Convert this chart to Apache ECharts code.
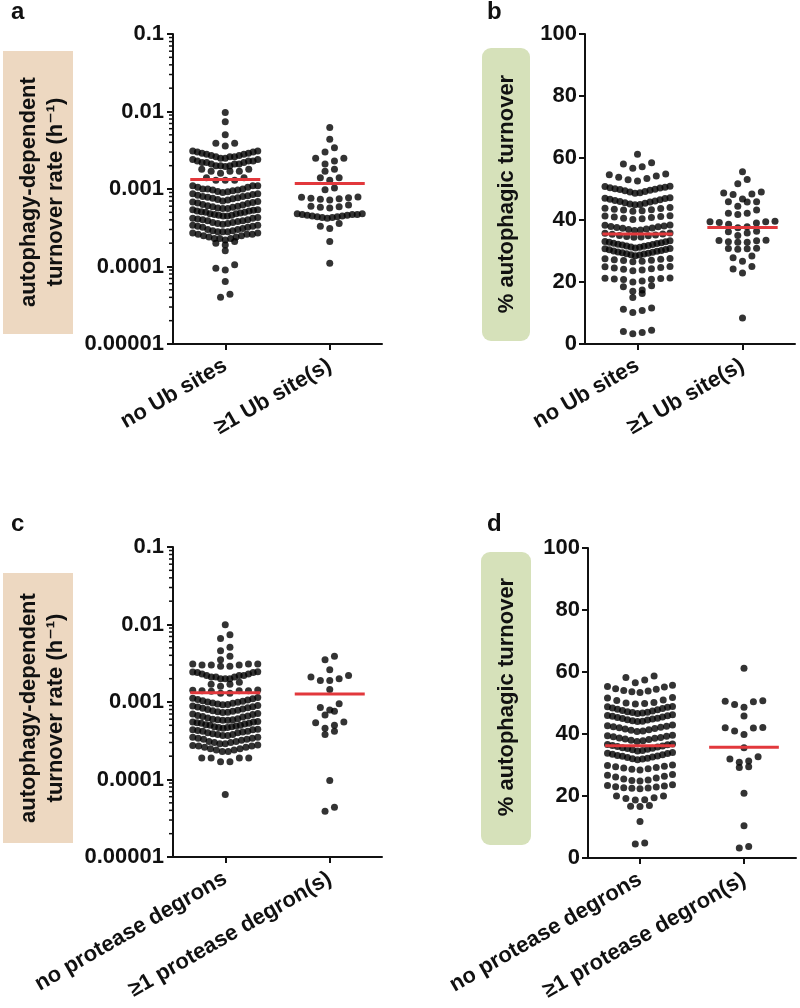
<!DOCTYPE html>
<html><head><meta charset="utf-8">
<script src="https://cdn.jsdelivr.net/npm/echarts@6/dist/echarts.min.js"></script>
<style>html,body{margin:0;padding:0;background:#fff}#c{width:800px;height:1008px}</style>
</head><body><div id="c"></div>
<script>
// ---------- categories / tick labels ----------
const catsUb = ['no Ub sites', '\u22651 Ub site(s)'];
const catsDeg = ['no protease degrons', '\u22651 protease degron(s)'];
const logTickLabels = ['0.00001', '0.0001', '0.001', '0.01', '0.1'];
const minorLogTicks = [0.00002,0.00003,0.00004,0.00005,0.00006,0.00007,0.00008,0.00009,
  0.0002,0.0003,0.0004,0.0005,0.0006,0.0007,0.0008,0.0009,
  0.002,0.003,0.004,0.005,0.006,0.007,0.008,0.009,
  0.02,0.03,0.04,0.05,0.06,0.07,0.08,0.09];

// ---------- values ----------
// a: autophagy-dependent turnover rate (h^-1)
const rateNoUb = [0.0097, 0.0074, 0.0050, 0.0039, 0.0039, 0.0036,
  0.0031, 0.0031, 0.0030, 0.0030, 0.0029, 0.0029, 0.0028, 0.0028, 0.0027, 0.0027, 0.0026, 0.0026, 0.0026, 0.0025, 0.0025,
  0.0024, 0.0024, 0.0023, 0.0023, 0.0023, 0.0022, 0.0022, 0.0022, 0.0021, 0.0021, 0.0021, 0.0020, 0.0020, 0.0020, 0.00195,
  0.0018, 0.0018, 0.0017, 0.0017, 0.0017, 0.0016,
  0.0014, 0.0014, 0.0013, 0.0013, 0.0013,
  0.0011, 0.0011, 0.0011, 0.00105, 0.00105, 0.0010, 0.0010, 0.0010, 0.00097, 0.00097, 0.00095, 0.00093, 0.00092, 0.0009,
  0.00087, 0.00087, 0.00085, 0.00083, 0.00082, 0.0008, 0.0008, 0.00078, 0.00077, 0.00076, 0.00075, 0.00073, 0.00072, 0.0007,
  0.00069, 0.00068, 0.00067, 0.00066, 0.00065, 0.00063, 0.00062, 0.00061, 0.0006, 0.00059, 0.00058, 0.00057, 0.00056, 0.00056,
  0.00054, 0.00054, 0.00053, 0.00052, 0.00052, 0.00051, 0.0005, 0.0005, 0.00049, 0.00048, 0.00048, 0.00047, 0.00046, 0.00046, 0.00045, 0.00045,
  0.00043, 0.00042, 0.00042, 0.00041, 0.0004, 0.0004, 0.00039, 0.00039, 0.00038, 0.00037, 0.00037, 0.00036, 0.00036, 0.00035,
  0.00034, 0.00034, 0.00033, 0.00033, 0.00032, 0.00032, 0.00031, 0.0003, 0.0003, 0.00029, 0.00029, 0.00028, 0.00028, 0.00028,
  0.00027, 0.00027, 0.00026, 0.00026, 0.00026, 0.00025, 0.00025, 0.00024, 0.00024, 0.00023, 0.00023, 0.00023, 0.00022,
  0.00021, 0.0002, 0.00019, 0.00016, 0.000105, 0.000095, 0.00009, 0.000064, 0.000044, 0.00004];
const rateUb = [0.0062, 0.0044, 0.0034, 0.0030, 0.0025, 0.0025, 0.0023, 0.0021, 0.0018, 0.0017,
  0.0014, 0.0014, 0.0013, 0.00103, 0.00098,
  0.00079, 0.00078, 0.00077, 0.00076, 0.00075, 0.00074, 0.00072,
  0.00062, 0.0006, 0.00059, 0.00058, 0.00057,
  0.00048, 0.00048, 0.00047, 0.00047, 0.00047, 0.00046, 0.00046, 0.00045, 0.00045, 0.00044, 0.00044, 0.00043, 0.00043, 0.00042,
  0.00036, 0.00033, 0.00031, 0.00021, 0.00011];
const meanRateUb = [0.00133, 0.00118];

// b: % autophagic turnover
const pctNoUb = [61.2, 58.5, 58.1, 57.2, 56.7,
  54.8, 54.6, 54.2, 53.8, 53.4, 53.0, 52.6,
  50.9, 50.8, 50.6, 50.4, 50.3, 50.1, 49.9, 49.8, 49.6, 49.4, 49.2, 49.0, 48.8, 48.6,
  47.2, 47.0, 46.9, 46.7, 46.5, 46.3, 46.1, 46.0, 45.8, 45.6, 45.4, 45.2, 45.0, 44.9,
  44.0, 43.8, 43.7, 43.5, 43.3, 43.2, 43.0, 42.8,
  41.4, 41.3, 41.1, 41.0, 40.8, 40.6, 40.4, 40.2,
  38.4, 38.3, 38.1, 37.9, 37.8, 37.6, 37.4, 37.3, 37.1, 36.9, 36.8, 36.6,
  35.8, 35.7, 35.5, 35.4, 35.2, 35.0, 34.9, 34.7, 34.5, 34.4,
  33.3, 33.1, 33.0, 32.8, 32.7, 32.5, 32.4, 32.2, 32.1, 31.9, 31.8, 31.6, 31.5, 31.3, 31.2, 31.0,
  30.8, 30.7, 30.5, 30.4, 30.2, 30.0, 29.9, 29.7, 29.6, 29.4, 29.3, 29.1, 29.0, 28.8, 28.7, 28.5,
  27.6, 27.5, 27.3, 27.2, 27.0, 26.9, 26.7, 26.5,
  25.0, 24.9, 24.7, 24.5, 24.3, 24.1, 23.9, 23.6,
  21.3, 21.2, 21.1, 21.0, 20.9, 20.8, 20.3, 20.0,
  18.8, 18.5, 17.4, 17.0, 16.3, 15.0,
  11.6, 11.2, 10.8, 10.2, 4.4, 4.0, 3.7, 3.3];
const pctUb = [55.6, 53.1, 51.7, 49.0, 48.7, 48.4, 48.2, 46.8, 45.9, 45.9, 45.8, 44.4,
  43.2, 42.2, 42.2, 41.8, 39.6, 39.4, 39.4, 39.2, 39.0, 38.6, 37.8, 37.5,
  36.4, 36.2, 35.8, 35.0, 33.5, 33.4, 33.3, 33.0, 32.8, 32.8,
  30.9, 30.8, 30.7, 30.6, 28.4, 27.8, 26.7, 25.0, 24.2, 22.9, 8.4];
const meanPctUb = [35.5, 37.6];

// c: autophagy-dependent turnover rate (h^-1), protease degrons
const rateNoDeg = [0.0099, 0.0074, 0.0066, 0.0051, 0.0046, 0.0039, 0.0035,
  0.0031, 0.0031, 0.0031, 0.0030, 0.0030, 0.0030, 0.0029, 0.0029,
  0.00246, 0.00244, 0.0024, 0.0024, 0.0023, 0.0023, 0.0022, 0.0022, 0.0022, 0.0021, 0.0021, 0.0021, 0.0020, 0.0020, 0.0020,
  0.0018, 0.0017, 0.0017, 0.0016,
  0.00143, 0.00142, 0.0014, 0.0014, 0.0014, 0.00138, 0.0013, 0.0013,
  0.00114, 0.00112, 0.0011, 0.00108, 0.00106, 0.00104, 0.00102, 0.001, 0.00099, 0.00097, 0.00096, 0.00094, 0.00093, 0.00092,
  0.0009, 0.00089, 0.00087, 0.00086, 0.00084, 0.00083, 0.00081, 0.0008, 0.00078, 0.00077, 0.00076, 0.00075, 0.00074, 0.00073,
  0.00071, 0.0007, 0.00069, 0.00067, 0.00066, 0.00065, 0.00064, 0.00062, 0.00061, 0.0006, 0.00059, 0.00059, 0.00058, 0.00058,
  0.00056, 0.00055, 0.00055, 0.00054, 0.00053, 0.00053, 0.00052, 0.00051, 0.0005, 0.0005, 0.00049, 0.00048, 0.00048, 0.00047, 0.00047, 0.00046,
  0.000445, 0.00044, 0.00044, 0.00043, 0.00042, 0.00042, 0.00041, 0.0004, 0.0004, 0.00039, 0.00038, 0.00038, 0.00037, 0.00037,
  0.00035, 0.00035, 0.00034, 0.00034, 0.00033, 0.00033, 0.00032, 0.00031, 0.00031, 0.0003, 0.0003, 0.00029, 0.00029,
  0.000278, 0.000275, 0.00027, 0.00027, 0.00026, 0.00026, 0.00025, 0.00025, 0.00024, 0.00024, 0.00023, 0.00023,
  0.00019, 0.00019, 0.00019, 0.00019, 0.00017, 0.00017, 0.000064];
const rateDeg = [0.0039, 0.0035, 0.0026, 0.0022, 0.0021, 0.0020, 0.0019, 0.0019, 0.00145,
  0.00095, 0.00085, 0.00079, 0.00076, 0.00068, 0.00055, 0.00054, 0.0005, 0.00046,
  0.00042, 0.00038, 0.000097, 0.000044, 0.000039];
const meanRateDeg = [0.00132, 0.00127];

// d: % autophagic turnover, protease degrons
const pctNoDeg = [58.7, 58.2, 57.4, 56.5,
  55.7, 55.3, 55.2, 54.6, 54.4, 54.0, 53.9, 53.6, 53.4,
  51.8, 51.6, 51.0, 50.8, 50.2, 50.0, 49.8, 49.7,
  48.9, 48.8, 48.6, 48.4, 48.2, 48.0, 47.8, 47.6, 47.4, 47.2, 47.0, 46.9, 46.8, 46.6,
  46.2, 46.0, 45.9, 45.7, 45.5, 45.3, 45.1, 45.0, 44.8, 44.6, 44.5, 44.3, 44.1, 44.0,
  42.9, 42.7, 42.5, 42.3, 42.2, 42.0, 41.8, 41.6, 41.4, 41.2, 41.0, 40.8,
  39.6, 39.4, 39.3, 39.1, 38.9, 38.7, 38.6, 38.4, 38.2, 38.0, 37.8, 37.6,
  36.8, 36.6, 36.5, 36.3, 36.1, 36.0, 35.8, 35.6, 35.4, 35.3, 35.1, 34.9, 34.7, 34.5,
  34.0, 33.8, 33.7, 33.5, 33.3, 33.1, 32.9, 32.8, 32.6, 32.4, 32.2, 32.0, 31.9, 31.7,
  30.0, 29.8, 29.6, 29.4, 29.2, 29.0, 28.8, 28.6, 28.4,
  26.9, 26.7, 26.4, 26.1, 25.8, 25.5, 25.2, 25.0, 24.8,
  23.6, 23.4, 23.2, 23.0, 22.9, 22.7, 22.6, 22.5, 22.3,
  20.0, 20.0, 19.4, 19.2, 18.8, 18.7, 16.9, 16.7, 16.6, 11.8, 4.8, 4.5];
const pctDeg = [61.2, 50.7, 50.6, 50.4, 49.5, 48.6, 45.8, 42.1, 42.0, 41.9, 41.0, 39.8,
  35.6, 32.7, 31.9, 31.3, 30.9, 29.4, 29.2, 20.9, 10.4, 3.7, 3.2];
const meanPctDeg = [36.2, 35.7];

// ---------- layout / style ----------
const FONT = '"Liberation Sans", Arial, "DejaVu Sans", sans-serif';
const INK = '#111';
const DOT = 7, ROW_H = 7.5, GAP_MAX = 4.5, SPACING = 9.4, MAX_W = 65, MEAN_HALF = 0.335;

const panels = [
  {grid: {left: 173, top: 34, width: 209, height: 310}, log: true, cats: catsUb, groups: [rateNoUb, rateUb], means: meanRateUb},
  {grid: {left: 585, top: 34, width: 210, height: 310}, log: false, cats: catsUb, groups: [pctNoUb, pctUb], means: meanPctUb},
  {grid: {left: 173, top: 547, width: 209, height: 310}, log: true, cats: catsDeg, groups: [rateNoDeg, rateDeg], means: meanRateDeg},
  {grid: {left: 588, top: 548, width: 208, height: 310}, log: false, cats: catsDeg, groups: [pctNoDeg, pctDeg], means: meanPctDeg}
];

const labelStyle = {fontSize: 22, fontWeight: 'bold', fontFamily: FONT, color: INK};

const grids = panels.map(p => Object.assign({containLabel: false, outerBoundsMode: 'none'}, p.grid));
const xAxes = panels.map((p, i) => ({
  type: 'value', gridIndex: i, min: -0.5, max: 1.5,
  splitLine: {show: false},
  axisLine: {show: true, onZero: false, lineStyle: {color: INK, width: 2}},
  axisTick: {show: true, customValues: [0, 1], length: 6, lineStyle: {color: INK, width: 2}},
  axisLabel: Object.assign({show: true, customValues: [0, 1], rotate: 30, margin: 20,
    formatter: v => p.cats[Math.round(v)]}, labelStyle)
}));
const yAxes = panels.map((p, i) => p.log ? ({
  type: 'log', logBase: 10, gridIndex: i, min: 0.00001, max: 0.1,
  splitLine: {show: false},
  axisLine: {show: true, onZero: false, lineStyle: {color: INK, width: 2}},
  axisTick: {show: true, length: 6, lineStyle: {color: INK, width: 2}},
  axisLabel: Object.assign({margin: 9, formatter: v => logTickLabels[Math.round(Math.log10(v)) + 5]}, labelStyle)
}) : ({
  type: 'value', gridIndex: i, min: 0, max: 100, interval: 20,
  splitLine: {show: false},
  axisLine: {show: true, onZero: false, lineStyle: {color: INK, width: 2}},
  axisTick: {show: true, length: 6, lineStyle: {color: INK, width: 2}},
  axisLabel: Object.assign({margin: 8}, labelStyle)
}));

const series = [];
panels.forEach((p, i) => {
  p.groups.forEach((g, k) => series.push({
    id: 'dots' + i + '_' + k, type: 'scatter', xAxisIndex: i, yAxisIndex: i,
    symbol: 'circle', symbolSize: DOT, itemStyle: {color: '#000'}, silent: true, z: 3, data: []
  }));
  series.push({
    type: 'custom', xAxisIndex: i, yAxisIndex: i, z: 6, silent: true, clip: false,
    data: p.means.map((m, k) => [k, m]),
    renderItem: (params, api) => {
      const k = api.value(0), m = api.value(1);
      const a = api.coord([k - MEAN_HALF, m]), b = api.coord([k + MEAN_HALF, m]);
      return {type: 'line', shape: {x1: a[0], y1: a[1], x2: b[0], y2: b[1]},
        style: {stroke: '#E2383C', lineWidth: 3}};
    }
  });
  if (p.log) series.push({
    type: 'custom', xAxisIndex: i, yAxisIndex: i, z: 2, silent: true, clip: false,
    data: minorLogTicks.map(v => [-0.5, v]),
    renderItem: (params, api) => {
      const c = api.coord([api.value(0), api.value(1)]);
      return {type: 'line', shape: {x1: c[0] - 4, y1: c[1], x2: c[0], y2: c[1]},
        style: {stroke: INK, lineWidth: 1.5}};
    }
  });
});

const txt = (x, y, text, size, rot, extra) => ({
  type: 'text', x, y, rotation: rot || 0, z: 10,
  style: Object.assign({text, fontSize: size, fontWeight: 'bold', fontFamily: FONT, fill: INK,
    align: 'center', verticalAlign: 'middle'}, extra || {})
});
const graphic = [
  {type: 'rect', shape: {x: 3, y: 51, width: 70, height: 283}, style: {fill: '#EDD8C1'}, z: 1},
  {type: 'rect', shape: {x: 3, y: 573, width: 70, height: 270}, style: {fill: '#EDD8C1'}, z: 1},
  {type: 'rect', shape: {x: 482, y: 48, width: 48, height: 293, r: 9}, style: {fill: '#D6E1BA'}, z: 1},
  {type: 'rect', shape: {x: 481, y: 552, width: 50, height: 293, r: 9}, style: {fill: '#D6E1BA'}, z: 1},
  txt(42, 192, 'autophagy-dependent\nturnover rate (h\u207B\u00B9)', 22, Math.PI / 2, {lineHeight: 27}),
  txt(42, 708, 'autophagy-dependent\nturnover rate (h\u207B\u00B9)', 22, Math.PI / 2, {lineHeight: 27}),
  txt(507, 194, '% autophagic turnover', 22, Math.PI / 2),
  txt(507, 697, '% autophagic turnover', 22, Math.PI / 2),
  txt(11, 12, 'a', 24, 0, {align: 'left'}),
  txt(487, 12, 'b', 24, 0, {align: 'left'}),
  txt(11, 524, 'c', 24, 0, {align: 'left'}),
  txt(487, 524, 'd', 24, 0, {align: 'left'})
];

const chart = echarts.init(document.getElementById('c'), null, {renderer: 'canvas', width: 800, height: 1008});
chart.setOption({animation: false, backgroundColor: '#fff', grid: grids, xAxis: xAxes, yAxis: yAxes, series, graphic});

// ---------- beeswarm layout through the axes' own scales ----------
function swarm(values, axisIdx, catIdx) {
  const pts = values.map(v => ({v, py: chart.convertToPixel({yAxisIndex: axisIdx}, v)}));
  pts.sort((a, b) => a.py - b.py);
  const rows = [];
  let cur = null;
  pts.forEach(p => {
    if (!cur || p.py - cur.top >= ROW_H || p.py - cur.last >= GAP_MAX) {
      cur = {top: p.py, last: p.py, pts: []};
      rows.push(cur);
    }
    cur.pts.push(p);
    cur.last = p.py;
  });
  const pxPerUnit = chart.convertToPixel({xAxisIndex: axisIdx}, 1) - chart.convertToPixel({xAxisIndex: axisIdx}, 0);
  const out = [];
  rows.forEach(r => {
    const n = r.pts.length;
    const s = n > 1 ? Math.min(SPACING, MAX_W / (n - 1)) : 0;
    const slots = [];
    for (let j = 0; j < n; j++) slots.push((j - (n - 1) / 2) * s);
    slots.sort((a, b) => (Math.abs(a) - Math.abs(b)) || (a - b));
    const lowFirst = r.pts.slice().sort((a, b) => b.py - a.py);
    lowFirst.forEach((p, j) => out.push([catIdx + slots[j] / pxPerUnit, p.v]));
  });
  return out;
}
const upd = [];
panels.forEach((p, i) => p.groups.forEach((g, k) => upd.push({id: 'dots' + i + '_' + k, data: swarm(g, i, k)})));
chart.setOption({series: upd});
</script></body></html>
